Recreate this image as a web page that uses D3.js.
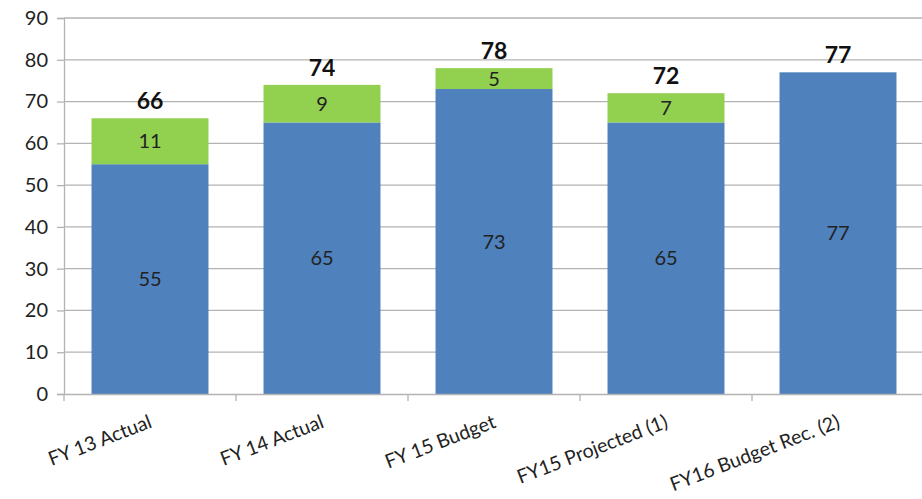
<!DOCTYPE html>
<html>
<head>
<meta charset="utf-8">
<script src="https://cdn.jsdelivr.net/npm/d3@7"></script>
<style>
  html, body { margin: 0; padding: 0; background: #fff; }
  svg { display: block; font-family: Lato, "Open Sans", sans-serif; }
</style>
</head>
<body>
<svg id="chart" width="922" height="499"></svg>
<script>
// Fiscal-year categories and stacked series
const categories = ["FY 13 Actual", "FY 14 Actual", "FY 15 Budget", "FY15 Projected (1)", "FY16 Budget Rec. (2)"];
const baseValues = [55, 65, 73, 65, 77];
const addedValues = [11, 9, 5, 7, 0];
const totals = [66, 74, 78, 72, 77];
const yTicks = [0, 10, 20, 30, 40, 50, 60, 70, 80, 90];

const svg = d3.select("#chart");
const margin = { top: 18, left: 64, bottom: 105, right: -2 };
const W = 922, H = 499;

const x = d3.scaleBand().domain(categories)
  .range([margin.left, W - margin.right]).paddingInner(0.32).paddingOuter(0.16);
const y = d3.scaleLinear().domain([0, 90]).range([H - margin.bottom, margin.top]);

const gridColor = "#b3b3b3";

// Horizontal gridlines
svg.append("g").selectAll("line").data(yTicks.filter(d => d > 0)).join("line")
  .attr("x1", margin.left).attr("x2", W)
  .attr("y1", d => y(d)).attr("y2", d => y(d))
  .attr("stroke", gridColor).attr("stroke-width", 1.3);

// Y axis
const yAxis = svg.append("g").attr("transform", `translate(${margin.left},0)`)
  .call(d3.axisLeft(y).tickValues(yTicks).tickSize(7).tickPadding(9));
yAxis.select(".domain").attr("stroke", gridColor).attr("stroke-width", 1.3);
yAxis.selectAll(".tick line").attr("stroke", gridColor).attr("stroke-width", 1.3);
yAxis.selectAll(".tick text").attr("font-size", 20).attr("fill", "#222")
  .attr("font-family", "Lato, 'Open Sans', sans-serif");

// Stacked bars
const rows = categories.map((c, i) => ({ cat: c, base: baseValues[i], added: addedValues[i], total: totals[i] }));
const bars = svg.append("g");
bars.selectAll("rect.base").data(rows).join("rect").attr("class", "base")
  .attr("x", d => x(d.cat)).attr("width", x.bandwidth())
  .attr("y", d => y(d.base)).attr("height", d => y(0) - y(d.base))
  .attr("fill", "#4F81BD");
bars.selectAll("rect.added").data(rows.filter(d => d.added > 0)).join("rect").attr("class", "added")
  .attr("x", d => x(d.cat)).attr("width", x.bandwidth())
  .attr("y", d => y(d.base + d.added)).attr("height", d => y(d.base) - y(d.base + d.added))
  .attr("fill", "#92D050");

// X axis
const xAxis = svg.append("g").attr("transform", `translate(0,${y(0)})`)
  .call(d3.axisBottom(x).tickSize(0).tickFormat(""));
xAxis.select(".domain").attr("stroke", gridColor).attr("stroke-width", 1.3);
const step = x.step();
svg.append("g").selectAll("line").data(d3.range(categories.length + 1)).join("line")
  .attr("x1", i => margin.left + i * step).attr("x2", i => margin.left + i * step)
  .attr("y1", y(0)).attr("y2", y(0) + 7)
  .attr("stroke", gridColor).attr("stroke-width", 1.3);

// Rotated category labels
svg.append("g").selectAll("text").data(categories).join("text")
  .attr("transform", d => `translate(${x(d) + x.bandwidth() / 2 + 3},${y(0) + 33}) rotate(-21)`)
  .attr("text-anchor", "end").attr("font-size", 19.5).attr("fill", "#222")
  .text(d => d);

// Segment value labels
const labels = svg.append("g").attr("font-size", 20).attr("fill", "#222").attr("text-anchor", "middle");
labels.selectAll("text.b").data(rows).join("text").attr("class", "b")
  .attr("x", d => x(d.cat) + x.bandwidth() / 2)
  .attr("y", d => y(d.base / 2)).attr("dy", "0.35em").text(d => d.base);
labels.selectAll("text.a").data(rows.filter(d => d.added > 0)).join("text").attr("class", "a")
  .attr("x", d => x(d.cat) + x.bandwidth() / 2)
  .attr("y", d => y(d.base + d.added / 2)).attr("dy", "0.35em").text(d => d.added);

// Total labels above bars
svg.append("g").selectAll("text").data(rows).join("text")
  .attr("x", d => x(d.cat) + x.bandwidth() / 2)
  .attr("y", d => y(d.total) - 9)
  .attr("text-anchor", "middle").attr("font-size", 23).attr("font-weight", "bold").attr("fill", "#111")
  .text(d => d.total);
</script>
</body>
</html>
